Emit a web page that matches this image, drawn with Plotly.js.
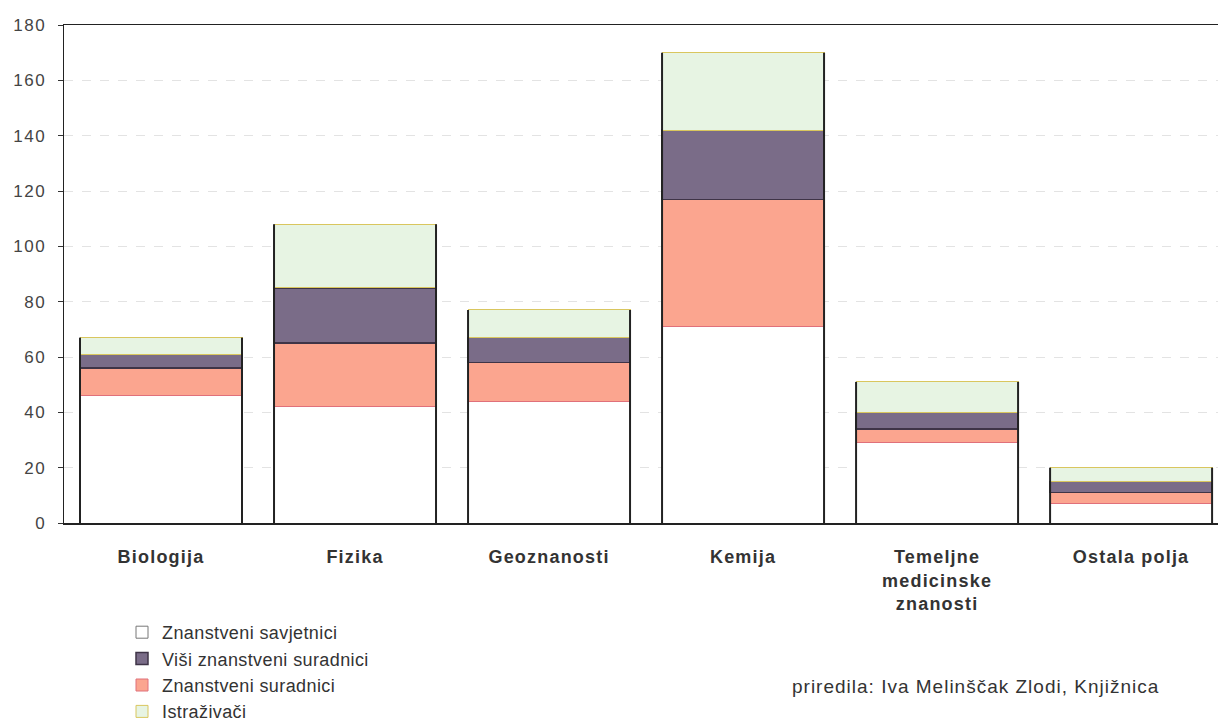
<!DOCTYPE html>
<html>
<head>
<meta charset="utf-8">
<script src="https://cdn.plot.ly/plotly-3.0.1.min.js"></script>
<style>
  html, body { margin: 0; padding: 0; background: #fff; }
  #chart { width: 1218px; height: 725px; }
  .xtick text { letter-spacing: 1.2px; }
  .ytick text { letter-spacing: 1.5px; }
  .legendtext { letter-spacing: 0.4px; }
  .annotation-text { letter-spacing: 1px; }
</style>
</head>
<body>
<div id="chart"></div>
<script>
// Broj znanstvenika po znanstvenim poljima i zvanjima
const categories = ['Biologija', 'Fizika', 'Geoznanosti', 'Kemija',
  'Temeljne<br>medicinske<br>znanosti', 'Ostala polja'];

const savjetnici    = [46, 42, 44, 71, 29, 7];   // Znanstveni savjetnici
const suradnici     = [10, 23, 14, 46, 5, 4];    // Znanstveni suradnici
const visiSuradnici = [5, 20, 9, 25, 6, 4];      // Viši znanstveni suradnici
const istrazivaci   = [6, 23, 10, 28, 11, 5];    // Istraživači

const yTicks = [0, 20, 40, 60, 80, 100, 120, 140, 160, 180];

const barWidth = 0.835;

function stack(name, y, fill, lineColor, lineWidth, rank) {
  return {
    type: 'bar', name: name, x: categories, y: y,
    width: barWidth, legendrank: rank,
    marker: { color: fill, line: { color: lineColor, width: lineWidth } },
    hoverinfo: 'skip'
  };
}

const traces = [
  stack('Znanstveni savjetnici', savjetnici, '#ffffff', '#777777', 1, 1),
  stack('Znanstveni suradnici', suradnici, '#fba58f', '#e0707a', 1, 3),
  stack('Viši znanstveni suradnici', visiSuradnici, '#7a6c88', '#3f3447', 1.5, 2),
  stack('Istraživači', istrazivaci, '#e7f4e3', '#d9c65e', 1, 4)
];

// dark side edges of each column, from the axis up to the column total
const shapes = [];
categories.forEach((c, i) => {
  const total = savjetnici[i] + suradnici[i] + visiSuradnici[i] + istrazivaci[i];
  [i - barWidth / 2, i + barWidth / 2].forEach(xe => {
    shapes.push({ type: 'line', xref: 'x', yref: 'y', x0: xe, x1: xe, y0: 0, y1: total,
      line: { color: '#222', width: 2 }, layer: 'above' });
  });
});

// plot area: 64..1218 px across, 25..523 px down
const px = v => (v - 64) / 1154;
const py = v => (523 - v) / 498;

const layout = {
  width: 1218, height: 725,
  margin: { l: 64, r: 0, t: 25, b: 202, autoexpand: false },
  paper_bgcolor: '#ffffff', plot_bgcolor: '#ffffff',
  barmode: 'stack',
  font: { family: 'Liberation Sans, Arial, sans-serif', color: '#333' },
  xaxis: {
    type: 'category', range: [-0.5, 5.448],
    showline: true, linecolor: '#222', linewidth: 1.5, mirror: true,
    showgrid: false, ticks: '', ticklabelstandoff: 17,
    tickfont: { size: 18, color: '#333', weight: 'bold' }
  },
  yaxis: {
    range: [0, 180], tickvals: yTicks, ticktext: yTicks.map(String),
    showline: true, linecolor: '#222', linewidth: 1.5,
    ticks: 'outside', ticklen: 5, tickcolor: '#333',
    ticklabelstandoff: 8,
    showgrid: true, gridcolor: '#e3e3e3', griddash: 'dash', gridwidth: 1,
    zeroline: false,
    tickfont: { size: 17, color: '#444' }
  },
  showlegend: true,
  legend: {
    x: px(122), y: py(614), xanchor: 'left', yanchor: 'top',
    orientation: 'v', traceorder: 'normal',
    font: { size: 18, color: '#333' },
    bgcolor: 'rgba(0,0,0,0)', itemwidth: 30, tracegroupgap: 0
  },
  annotations: [{
    xref: 'paper', yref: 'paper',
    x: px(790), y: py(686), xanchor: 'left', yanchor: 'middle',
    text: 'priredila: Iva Melinščak Zlodi, Knjižnica', showarrow: false,
    font: { size: 19, color: '#333' }
  }],
  shapes: shapes
};

Plotly.newPlot('chart', traces, layout, { displayModeBar: false, staticPlot: true });
</script>
</body>
</html>
